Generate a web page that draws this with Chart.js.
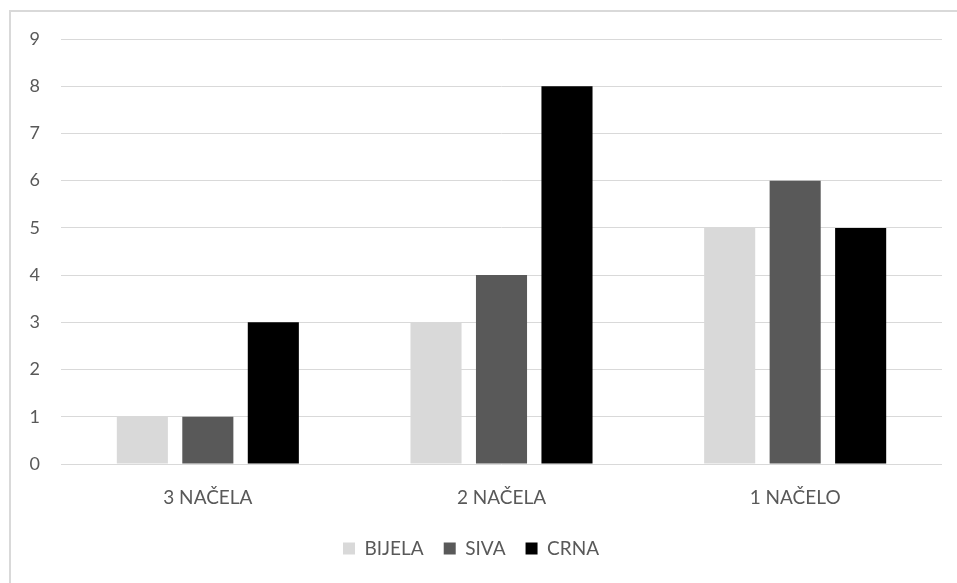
<!DOCTYPE html>
<html>
<head>
<meta charset="utf-8">
<script src="https://cdn.jsdelivr.net/npm/chart.js@4"></script>
<style>
  body { margin: 0; background: #fff; overflow: hidden; }
  #frame { position: absolute; left: 9px; top: 10px; width: 960px; height: 600px; border: 2px solid #d9d9d9; }
  #wrap { position: absolute; left: 0; top: 0; width: 957px; height: 583px; }
</style>
</head>
<body>
<div id="frame"></div>
<div id="wrap"><canvas id="chart"></canvas></div>
<script>
const categories = ['3 NAČELA', '2 NAČELA', '1 NAČELO'];
const seriesNames = ['BIJELA', 'SIVA', 'CRNA'];
const bijela = [1, 3, 5];
const siva = [1, 4, 6];
const crna = [3, 8, 5];
const colors = ['#d9d9d9', '#595959', '#000000'];

const textColor = '#595959';
const font = { family: 'Lato, "Open Sans", sans-serif', size: 19 };
const tickFont = { family: 'Lato, "Open Sans", sans-serif', size: 18 };

const ctx = document.getElementById('chart').getContext('2d');
new Chart(ctx, {
    type: 'bar',
    data: {
        labels: categories,
        datasets: [bijela, siva, crna].map((data, i) => ({
            label: seriesNames[i],
            data,
            backgroundColor: colors[i],
            borderWidth: 0,
            categoryPercentage: 0.669,
            barPercentage: 0.78
        }))
    },
    options: {
        responsive: true,
        maintainAspectRatio: false,
        animation: false,
        layout: { padding: { top: 39, right: 15, left: 0, bottom: 15 } },
        plugins: {
            tooltip: { enabled: false },
            legend: {
                position: 'bottom',
                labels: { color: textColor, font, boxWidth: 12, boxHeight: 12, padding: 20 }
            }
        },
        scales: {
            x: {
                grid: { display: false },
                border: { display: false },
                ticks: { color: textColor, font, padding: 14 },
                afterFit: scale => { scale.height = 55; }
            },
            y: {
                min: 0, max: 9,
                ticks: { stepSize: 1, color: textColor, font: tickFont, padding: 21 },
                grid: { color: '#d9d9d9', lineWidth: 1, drawTicks: false },
                border: { display: false },
                afterFit: scale => { scale.width = 61; }
            }
        }
    }
});
</script>
</body>
</html>
